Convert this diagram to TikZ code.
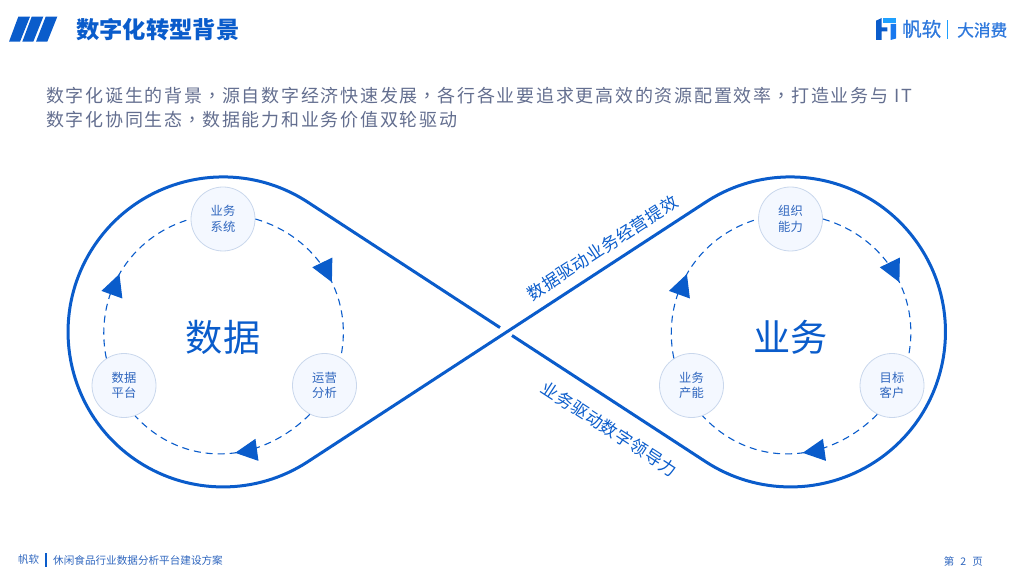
\documentclass[tikz,border=0pt]{standalone}
\usepackage{fontspec}
\setmainfont{Noto Sans CJK SC}
\newfontfamily\bodyfont[LetterSpace=9.7]{Noto Sans CJK SC}
\newfontfamily\dotfont{Noto Sans CJK TC}
\newfontfamily\sidefont[LetterSpace=3.5]{Noto Sans CJK SC}
\newfontfamily\midfont[FakeBold=0.8]{Noto Sans CJK SC}
\newcommand{\cham}{\makebox[19.75pt]{\dotfont ，}}
\usetikzlibrary{arrows.meta,decorations.markings}
\definecolor{fblue}{HTML}{0A5CCB}
\definecolor{flight}{HTML}{1EA0FF}
\definecolor{fmid}{HTML}{1878EE}
\definecolor{flogo}{HTML}{2E78DC}
\definecolor{ftext}{HTML}{2F66BE}
\definecolor{fgray}{HTML}{636E8F}
\definecolor{fnode}{HTML}{F4F8FF}
\definecolor{fedge}{HTML}{C9D7EC}
\begin{document}
\begin{tikzpicture}[x=1pt,y=1pt,
			nut/.style={
				circle,
				draw=fedge,
				thick,
				fill=fnode,
				minimum size=64pt,
				inner sep=0pt,
				align=center,
				text=ftext,
				font=\fontsize{12.3}{15.5}\selectfont,
				execute at begin node={\rule{0pt}{15pt}}
			},
			flow/.style 2 args={
				draw=fblue,
				line width=1.1pt,
				dash pattern=on 7pt off 5pt,
				decoration={markings,mark=at position #1 with {\pgftransformrotate{#2}\arrow{Triangle[length=22pt,width=22pt,fblue]}}},
				postaction={decorate}
			},
			tam/.style={text=fblue,font=\fontsize{37.2}{37.2}\selectfont},
			vien/.style={draw=fblue,line width=3pt,line join=round},
			dong/.style={anchor=west,text=fgray,font=\bodyfont\fontsize{18}{18}\selectfont}
			]
			\useasboundingbox (0,0) rectangle (1024,576);
			%---------------- 页眉 ----------------
			\fill[fblue] (18.3,559.3)--(30,559.3)--(20,534.3)--(9,534.3)--cycle;
			\fill[fblue] (31.7,559.3)--(43.3,559.3)--(33.3,534.3)--(22.3,534.3)--cycle;
			\fill[fblue] (45.7,559.3)--(57.3,559.3)--(47.3,534.3)--(36,534.3)--cycle;
			\node[anchor=west,inner sep=0pt,text=fblue,font=\bfseries\fontsize{23.3}{23.3}\selectfont] (tieude) at (76,546) {数字化转型背景};
			%---------------- 标志 ----------------
			\fill[fblue] (876,555.3)--(881.7,558)--(881.7,548.7)--(887.3,548.7)--(887.3,544.7)--(881.7,544.7)--(881.7,536)--(876,536)--cycle;
			\fill[flight] (882.5,558)--(896,558)--(896,552.7)--(882.5,552.7)--cycle;
			\fill[fmid] (890.7,552)--(896,552)--(896,537.5)--(890.7,536)--cycle;
			\node[anchor=west,inner sep=0pt,text=flogo,font=\midfont\fontsize{19.5}{19.5}\selectfont] (fanruan) at (902,547) {帆软};
			\fill[flight] (946.5,537) rectangle (948,556);
			\node[anchor=west,inner sep=0pt,text=flogo,font=\midfont\fontsize{16.7}{16.7}\selectfont] (daxiaofei) at (957,546) {大消费};
			%---------------- 说明 ----------------
			\node[dong,inner sep=0pt] (dong1) at (46,480) {数字化诞生的背景\cham 源自数字经济快速发展\cham 各行各业要追求更高效的资源配置效率\cham 打造业务与 IT};
			\node[dong,inner sep=0pt] (dong2) at (46,456) {数字化协同生态\cham 数据能力和业务价值双轮驱动};
			%---------------- 外框 ----------------
			\draw[vien] (500,248.4)--(307.7,373.9)
				arc[start angle=56.9,end angle=303.1,radius=155]
				--(705.8,373.9)
				arc[start angle=123.1,end angle=-123.1,radius=155]
				--(512,240.5);
			\node[rotate=33,inner sep=0pt,text=fblue,font=\sidefont\fontsize{17}{17}\selectfont] (nhan1) at (602.5,328) {数据驱动业务经营提效};
			\node[rotate=-33,inner sep=0pt,text=fblue,font=\sidefont\fontsize{17}{17}\selectfont] (nhan2) at (609.5,147) {业务驱动数字领导力};
			%---------------- 数据 ----------------
			\node[tam] (data) at (223,239) {数据};
			\node[nut] (d1) at (223,357) {业务\\系统};
			\node[nut] (d2) at (324.5,190.5) {运营\\分析};
			\node[nut] (d3) at (124,190.5) {数据\\平台};
			\draw[flow={0.57}{0}] (d1.0) to[out=-16,in=78] (d2.60);
			\draw[flow={0.435}{0}] (d2.-117) to[out=-135,in=-47,looseness=1.05] (d3.-70);
			\draw[flow={0.486}{10}] (d3.123) to[out=101.6,in=196] (d1.180);
			%---------------- 业务 ----------------
			\node[tam] (biz) at (790.5,239) {业务};
			\node[nut] (b1) at (790.5,357) {组织\\能力};
			\node[nut] (b2) at (892,190.5) {目标\\客户};
			\node[nut] (b3) at (691.5,190.5) {业务\\产能};
			\draw[flow={0.57}{0}] (b1.0) to[out=-16,in=78] (b2.60);
			\draw[flow={0.435}{0}] (b2.-117) to[out=-135,in=-47,looseness=1.05] (b3.-70);
			\draw[flow={0.486}{10}] (b3.123) to[out=101.6,in=196] (b1.180);
			%---------------- 页脚 ----------------
			\node[anchor=west,inner sep=0pt,text=ftext,font=\fontsize{10.5}{10.5}\selectfont] (brand) at (18,16) {帆软};
			\fill[fblue] (45,9.5) rectangle (47,23);
			\node[anchor=west,inner sep=0pt,text=ftext,font=\fontsize{10.6}{10.6}\selectfont] (foot) at (53,16) {休闲食品行业数据分析平台建设方案};
			\node[anchor=east,inner sep=0pt,text=ftext,font=\fontsize{10.5}{10.5}\selectfont] (page) at (983,15) {第\hspace{6pt}2\hspace{6pt}页};
		\end{tikzpicture}
\end{document}
